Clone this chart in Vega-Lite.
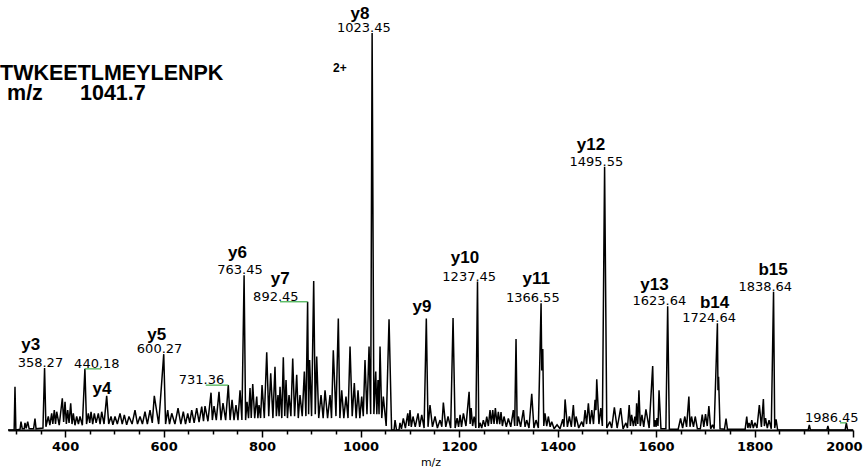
{
  "$schema": "https://vega.github.io/schema/vega-lite/v6.json",
  "width": 845,
  "height": 397,
  "autosize": {"type": "none"},
  "padding": {"left": 8, "top": 33, "right": 10, "bottom": 38},
  "background": "white",
  "config": {"view": {"stroke": null}, "font": "Liberation Sans"},
  "datasets": {
    "spectrum": [
      {"mz": 284, "i": 0}, {"mz": 296.5, "i": 0}, {"mz": 298.2, "i": 10.9}, {"mz": 300, "i": 0},
      {"mz": 308.5, "i": 0.2}, {"mz": 310.4, "i": 2.1}, {"mz": 313, "i": 0.3}, {"mz": 317, "i": 0.3},
      {"mz": 318.5, "i": 1.8}, {"mz": 321, "i": 0.4}, {"mz": 324.0, "i": 2.1}, {"mz": 327, "i": 0.3},
      {"mz": 336, "i": 0.3}, {"mz": 338.8, "i": 2.9}, {"mz": 341, "i": 0.3}, {"mz": 355, "i": 0.5},
      {"mz": 358.27, "i": 15.6, "label": "358.27"}, {"mz": 361, "i": 0.8}, {"mz": 365.8, "i": 3.4},
      {"mz": 369, "i": 1.2}, {"mz": 372.7, "i": 4.2}, {"mz": 375, "i": 1.5}, {"mz": 378.0, "i": 5.0},
      {"mz": 380.5, "i": 1.5}, {"mz": 382.9, "i": 4.6}, {"mz": 388, "i": 1.2}, {"mz": 394.3, "i": 8.0},
      {"mz": 397, "i": 2}, {"mz": 399.8, "i": 7.1}, {"mz": 402.5, "i": 1.5}, {"mz": 405.2, "i": 5.0},
      {"mz": 408, "i": 1.8}, {"mz": 411.3, "i": 6.7}, {"mz": 414, "i": 1.5}, {"mz": 416.6, "i": 4.2},
      {"mz": 420, "i": 1.2}, {"mz": 423.5, "i": 3.4}, {"mz": 427, "i": 1.5}, {"mz": 430.2, "i": 3.4},
      {"mz": 435, "i": 1.2}, {"mz": 440.18, "i": 15.4, "label": "440.18", "at": 472.9}, {"mz": 443.5, "i": 1.5},
      {"mz": 447.1, "i": 4.2}, {"mz": 450, "i": 1.8}, {"mz": 452.6, "i": 4.6}, {"mz": 456, "i": 1.5},
      {"mz": 459.3, "i": 4.2}, {"mz": 463, "i": 1.8}, {"mz": 467.4, "i": 4.2}, {"mz": 471, "i": 1.5},
      {"mz": 474.3, "i": 4.6}, {"mz": 479, "i": 1.5}, {"mz": 484.4, "i": 8.6}, {"mz": 488.5, "i": 1.5},
      {"mz": 493.2, "i": 3.4}, {"mz": 497, "i": 1.3}, {"mz": 501.3, "i": 3.4}, {"mz": 506, "i": 1.5},
      {"mz": 511.5, "i": 4.2}, {"mz": 516, "i": 1.5}, {"mz": 520.2, "i": 3.8}, {"mz": 525, "i": 1.3},
      {"mz": 529.7, "i": 3.4}, {"mz": 536, "i": 1.5}, {"mz": 541.9, "i": 5.0}, {"mz": 547, "i": 1.5},
      {"mz": 552.1, "i": 3.4}, {"mz": 557, "i": 1.5}, {"mz": 562.2, "i": 4.6}, {"mz": 567, "i": 1.5},
      {"mz": 572.4, "i": 5.0}, {"mz": 577, "i": 1.8}, {"mz": 581.1, "i": 8.6}, {"mz": 590, "i": 1.5},
      {"mz": 600.27, "i": 19.1, "label": "600.27"}, {"mz": 604, "i": 1.5}, {"mz": 608.3, "i": 5.0},
      {"mz": 612, "i": 1.5}, {"mz": 616.5, "i": 4.2}, {"mz": 623, "i": 1.5}, {"mz": 629.3, "i": 5.5},
      {"mz": 635, "i": 1.5}, {"mz": 640.0, "i": 4.6}, {"mz": 644.5, "i": 1.5}, {"mz": 649.0, "i": 4.2},
      {"mz": 653, "i": 1.8}, {"mz": 657.1, "i": 5.0}, {"mz": 662, "i": 1.8}, {"mz": 667.2, "i": 5.5},
      {"mz": 672, "i": 2}, {"mz": 677.4, "i": 5.9}, {"mz": 681, "i": 2.2}, {"mz": 684.1, "i": 6.0},
      {"mz": 690, "i": 2.2}, {"mz": 696.3, "i": 9.4}, {"mz": 699, "i": 2.5}, {"mz": 702.4, "i": 6.0},
      {"mz": 707, "i": 2.5}, {"mz": 712.5, "i": 9.6}, {"mz": 716.5, "i": 2.5}, {"mz": 720.6, "i": 6.8},
      {"mz": 726, "i": 2.5}, {"mz": 731.36, "i": 11.3, "label": "731.36", "at": 685.5}, {"mz": 735, "i": 2.5},
      {"mz": 739.0, "i": 7.6}, {"mz": 743, "i": 2.5}, {"mz": 747.0, "i": 6.3}, {"mz": 751, "i": 2.5},
      {"mz": 755.2, "i": 10.0}, {"mz": 759, "i": 2.5}, {"mz": 763.45, "i": 39.0, "label": "763.45"},
      {"mz": 766.5, "i": 2.5}, {"mz": 769.4, "i": 7.1}, {"mz": 772.5, "i": 3}, {"mz": 775.5, "i": 10.6},
      {"mz": 778, "i": 3}, {"mz": 781.0, "i": 11.6}, {"mz": 785, "i": 3}, {"mz": 789.1, "i": 8.4},
      {"mz": 791.5, "i": 3}, {"mz": 793.8, "i": 6.3}, {"mz": 797, "i": 3}, {"mz": 799.9, "i": 11.3},
      {"mz": 804.5, "i": 3}, {"mz": 809.4, "i": 19.6}, {"mz": 813.5, "i": 3.5}, {"mz": 817.5, "i": 14.3},
      {"mz": 822, "i": 3}, {"mz": 826.2, "i": 15.9}, {"mz": 829, "i": 3.5}, {"mz": 832.3, "i": 8.8},
      {"mz": 834.5, "i": 3.5}, {"mz": 836.4, "i": 10.9}, {"mz": 840, "i": 3}, {"mz": 843.1, "i": 18.3},
      {"mz": 846, "i": 3.5}, {"mz": 848.6, "i": 12.6}, {"mz": 851.5, "i": 3}, {"mz": 854.7, "i": 8.8},
      {"mz": 858.5, "i": 3.5}, {"mz": 862.2, "i": 18.0}, {"mz": 866, "i": 3.5}, {"mz": 870.3, "i": 13.9},
      {"mz": 873.5, "i": 3}, {"mz": 877.0, "i": 8.8}, {"mz": 881.5, "i": 3.5}, {"mz": 885.8, "i": 14.7},
      {"mz": 889, "i": 3.5}, {"mz": 892.45, "i": 32.3, "label": "892.45", "at": 836.4}, {"mz": 894.5, "i": 4},
      {"mz": 896.5, "i": 17.6}, {"mz": 900.5, "i": 3.5}, {"mz": 904.8, "i": 37.5}, {"mz": 908, "i": 4},
      {"mz": 910.9, "i": 18.5}, {"mz": 915, "i": 3}, {"mz": 919.7, "i": 8.8}, {"mz": 924, "i": 3},
      {"mz": 927.8, "i": 10.0}, {"mz": 933, "i": 3}, {"mz": 938.0, "i": 8.8}, {"mz": 941, "i": 3},
      {"mz": 944.6, "i": 20.1}, {"mz": 950, "i": 3.5}, {"mz": 954.8, "i": 28.1}, {"mz": 958, "i": 3},
      {"mz": 961.7, "i": 10.0}, {"mz": 966, "i": 3}, {"mz": 970.4, "i": 8.4}, {"mz": 974.5, "i": 3},
      {"mz": 978.6, "i": 21.0}, {"mz": 983, "i": 3.5}, {"mz": 987.3, "i": 11.8}, {"mz": 991, "i": 3},
      {"mz": 994.8, "i": 10.0}, {"mz": 998.5, "i": 3}, {"mz": 1002.3, "i": 8.4}, {"mz": 1005.5, "i": 3.5},
      {"mz": 1009.0, "i": 17.6}, {"mz": 1013, "i": 4}, {"mz": 1017.2, "i": 21.0}, {"mz": 1020.5, "i": 4},
      {"mz": 1023.45, "i": 100.0, "label": "1023.45"}, {"mz": 1027, "i": 4}, {"mz": 1030.8, "i": 14.7},
      {"mz": 1033, "i": 4}, {"mz": 1035.4, "i": 12.6}, {"mz": 1037.5, "i": 4}, {"mz": 1039.5, "i": 21.0},
      {"mz": 1043, "i": 3}, {"mz": 1046.2, "i": 8.4}, {"mz": 1052, "i": 1}, {"mz": 1057.8, "i": 27.9},
      {"mz": 1063, "i": 0}, {"mz": 1068, "i": 0}, {"mz": 1070.0, "i": 2.5}, {"mz": 1073, "i": 0},
      {"mz": 1078, "i": 0}, {"mz": 1080.0, "i": 1.8}, {"mz": 1083, "i": 0.3}, {"mz": 1086.8, "i": 2.9},
      {"mz": 1091, "i": 0.5}, {"mz": 1095.8, "i": 4.2}, {"mz": 1098, "i": 1}, {"mz": 1100.4, "i": 5.0},
      {"mz": 1103, "i": 0.8}, {"mz": 1106.5, "i": 3.4}, {"mz": 1111, "i": 0.8}, {"mz": 1116.7, "i": 4.2},
      {"mz": 1120, "i": 0.8}, {"mz": 1124.2, "i": 3.8}, {"mz": 1129, "i": 0.5}, {"mz": 1133.5, "i": 28.1},
      {"mz": 1137, "i": 0.8}, {"mz": 1141.0, "i": 6.3}, {"mz": 1146, "i": 0.8}, {"mz": 1151.2, "i": 3.4},
      {"mz": 1156, "i": 0.5}, {"mz": 1161.4, "i": 2.5}, {"mz": 1165, "i": 0.8}, {"mz": 1168.1, "i": 6.9},
      {"mz": 1173, "i": 0.8}, {"mz": 1177.6, "i": 3.4}, {"mz": 1183, "i": 0.5}, {"mz": 1187.8, "i": 28.2},
      {"mz": 1192, "i": 0.5}, {"mz": 1196.0, "i": 3.0}, {"mz": 1199, "i": 0.8}, {"mz": 1202.1, "i": 3.8},
      {"mz": 1205, "i": 0.8}, {"mz": 1208.8, "i": 4.2}, {"mz": 1214, "i": 1}, {"mz": 1220.4, "i": 9.6},
      {"mz": 1222.5, "i": 1.5}, {"mz": 1224.5, "i": 5.5}, {"mz": 1227.5, "i": 1}, {"mz": 1230.6, "i": 3.4},
      {"mz": 1234, "i": 0.5}, {"mz": 1237.45, "i": 37.4, "label": "1237.45"}, {"mz": 1240, "i": 0.5},
      {"mz": 1242.6, "i": 1.8}, {"mz": 1246, "i": 0.5}, {"mz": 1249.3, "i": 2.5}, {"mz": 1253, "i": 0.8},
      {"mz": 1256.2, "i": 3.4}, {"mz": 1259.5, "i": 1}, {"mz": 1262.9, "i": 5.0}, {"mz": 1265.5, "i": 1.5},
      {"mz": 1268.4, "i": 5.0}, {"mz": 1271, "i": 1.5}, {"mz": 1273.7, "i": 5.5}, {"mz": 1277, "i": 1.5},
      {"mz": 1279.8, "i": 4.6}, {"mz": 1282.5, "i": 1.5}, {"mz": 1285.2, "i": 4.5}, {"mz": 1288, "i": 1},
      {"mz": 1291.3, "i": 3.4}, {"mz": 1296, "i": 0.8}, {"mz": 1300.1, "i": 2.9}, {"mz": 1305, "i": 0.8},
      {"mz": 1310.2, "i": 5.0}, {"mz": 1313, "i": 1}, {"mz": 1315.7, "i": 22.9}, {"mz": 1318, "i": 1},
      {"mz": 1320.4, "i": 3.4}, {"mz": 1325, "i": 0.8}, {"mz": 1330.6, "i": 5.0}, {"mz": 1334, "i": 0.8},
      {"mz": 1337.4, "i": 2.5}, {"mz": 1342, "i": 0.5}, {"mz": 1347.6, "i": 9.1}, {"mz": 1352, "i": 0.5},
      {"mz": 1356.3, "i": 2.5}, {"mz": 1361, "i": 0.5}, {"mz": 1366.55, "i": 31.9, "label": "1366.55"},
      {"mz": 1368, "i": 15}, {"mz": 1370.0, "i": 20.4}, {"mz": 1372, "i": 1}, {"mz": 1374.5, "i": 4.2},
      {"mz": 1378, "i": 1}, {"mz": 1381.3, "i": 3.4}, {"mz": 1385, "i": 0.8}, {"mz": 1388.2, "i": 2.1},
      {"mz": 1393, "i": 0.3}, {"mz": 1399.0, "i": 1.3}, {"mz": 1405, "i": 0.3}, {"mz": 1410.6, "i": 2.7},
      {"mz": 1413, "i": 0.8}, {"mz": 1415.3, "i": 7.7}, {"mz": 1420, "i": 0.8}, {"mz": 1424.0, "i": 3.4},
      {"mz": 1428, "i": 0.8}, {"mz": 1432.1, "i": 6.3}, {"mz": 1435, "i": 0.8}, {"mz": 1437.6, "i": 3.4},
      {"mz": 1443, "i": 0.5}, {"mz": 1449.2, "i": 2.1}, {"mz": 1452.5, "i": 0.8}, {"mz": 1455.9, "i": 5.0},
      {"mz": 1459, "i": 1.5}, {"mz": 1462.6, "i": 6.7}, {"mz": 1466, "i": 1.5}, {"mz": 1469.5, "i": 5.0},
      {"mz": 1473, "i": 1.5}, {"mz": 1476.2, "i": 7.6}, {"mz": 1478, "i": 5}, {"mz": 1479.6, "i": 12.8},
      {"mz": 1484, "i": 1.5}, {"mz": 1487.8, "i": 5.5}, {"mz": 1491, "i": 1},
      {"mz": 1495.55, "i": 66.3, "label": "1495.55"}, {"mz": 1500, "i": 0.5}, {"mz": 1506.2, "i": 2.1},
      {"mz": 1510, "i": 0.5}, {"mz": 1515.4, "i": 5.7}, {"mz": 1521, "i": 0.5}, {"mz": 1528.2, "i": 5.5},
      {"mz": 1533, "i": 0.3}, {"mz": 1538.8, "i": 1.8}, {"mz": 1542, "i": 0.5}, {"mz": 1545.5, "i": 6.3},
      {"mz": 1548, "i": 1}, {"mz": 1550.4, "i": 3.8}, {"mz": 1554, "i": 1}, {"mz": 1557.1, "i": 3.4},
      {"mz": 1559, "i": 1}, {"mz": 1560.6, "i": 6.7}, {"mz": 1563, "i": 1.5}, {"mz": 1565.3, "i": 10.0},
      {"mz": 1568, "i": 1}, {"mz": 1571.4, "i": 3.8}, {"mz": 1575, "i": 0.8}, {"mz": 1579.5, "i": 5.2},
      {"mz": 1586, "i": 0.5}, {"mz": 1593.2, "i": 16.1}, {"mz": 1596, "i": 0.8}, {"mz": 1598.0, "i": 2.5},
      {"mz": 1600, "i": 0.8}, {"mz": 1602.0, "i": 3.0}, {"mz": 1604, "i": 1}, {"mz": 1606.1, "i": 10.0},
      {"mz": 1610, "i": 0.3}, {"mz": 1620, "i": 0.3}, {"mz": 1623.64, "i": 31.2, "label": "1623.64"},
      {"mz": 1627, "i": 0.2}, {"mz": 1645, "i": 0.2}, {"mz": 1649.8, "i": 2.9}, {"mz": 1654, "i": 0.5},
      {"mz": 1658.5, "i": 3.4}, {"mz": 1662, "i": 0.8}, {"mz": 1666.7, "i": 8.4}, {"mz": 1669, "i": 0.8},
      {"mz": 1672.1, "i": 3.4}, {"mz": 1676, "i": 0.8}, {"mz": 1679.6, "i": 3.4}, {"mz": 1684, "i": 0.3},
      {"mz": 1690, "i": 0.3}, {"mz": 1693.8, "i": 3.9}, {"mz": 1697, "i": 0.8}, {"mz": 1700.5, "i": 4.0},
      {"mz": 1704, "i": 1}, {"mz": 1707.3, "i": 6.0}, {"mz": 1711, "i": 0.3}, {"mz": 1714.8, "i": 1.3},
      {"mz": 1718, "i": 0.3}, {"mz": 1724.64, "i": 26.9, "label": "1724.64"}, {"mz": 1725.8, "i": 10},
      {"mz": 1727.0, "i": 13.4}, {"mz": 1730, "i": 0.3}, {"mz": 1739, "i": 0.2}, {"mz": 1742.2, "i": 2.9},
      {"mz": 1745, "i": 0.2}, {"mz": 1781, "i": 0.2}, {"mz": 1784.2, "i": 3.4}, {"mz": 1786.5, "i": 0.5},
      {"mz": 1788.9, "i": 1.8}, {"mz": 1791.5, "i": 0.5}, {"mz": 1794.4, "i": 2.5}, {"mz": 1797.5, "i": 0.5},
      {"mz": 1801.0, "i": 1.8}, {"mz": 1805, "i": 0.5}, {"mz": 1809.8, "i": 6.3}, {"mz": 1814, "i": 0.8},
      {"mz": 1818.0, "i": 7.8}, {"mz": 1820, "i": 1}, {"mz": 1822.4, "i": 3.0}, {"mz": 1826, "i": 0.5},
      {"mz": 1829.5, "i": 2.5}, {"mz": 1834, "i": 0.3}, {"mz": 1838.64, "i": 34.8, "label": "1838.64"},
      {"mz": 1841, "i": 0.5}, {"mz": 1843.8, "i": 2.7}, {"mz": 1847, "i": 0}, {"mz": 1909, "i": 0},
      {"mz": 1911.3, "i": 1.3}, {"mz": 1913.5, "i": 0}, {"mz": 1947, "i": 0}, {"mz": 1949.0, "i": 1.0},
      {"mz": 1951, "i": 0}, {"mz": 1984, "i": 0}, {"mz": 1986.45, "i": 1.8, "label": "1986.45", "at": 1973.7},
      {"mz": 1989, "i": 0}, {"mz": 2000, "i": 0}
    ],
    "ions": [
      {"ion": "y3", "mz": 330.3, "i": 20.2}, {"ion": "y4", "mz": 474.9, "i": 9.0},
      {"ion": "y5", "mz": 586.0, "i": 22.7}, {"ion": "y6", "mz": 750.1, "i": 43.3},
      {"ion": "y7", "mz": 837.0, "i": 36.8}, {"ion": "y8", "mz": 998.9, "i": 103.6},
      {"ion": "y9", "mz": 1124.8, "i": 29.8}, {"ion": "y10", "mz": 1212.1, "i": 42.1},
      {"ion": "y11", "mz": 1356.9, "i": 36.8}, {"ion": "y12", "mz": 1468.0, "i": 70.6},
      {"ion": "y13", "mz": 1597.0, "i": 35.3}, {"ion": "b14", "mz": 1718.8, "i": 30.7},
      {"ion": "b15", "mz": 1837.6, "i": 39.1}
    ],
    "notes": [
      {"text": "TWKEETLMEYLENPK", "mz": 267.8, "i": 88.2, "size": "big"},
      {"text": "m/z", "mz": 282.0, "i": 83.2, "size": "big"},
      {"text": "1041.7", "mz": 430.2, "i": 83.2, "size": "big"},
      {"text": "2+", "mz": 944.0, "i": 90.2, "size": "small"}
    ]
  },
  "encoding": {
    "x": {
      "field": "mz",
      "type": "quantitative",
      "scale": {"domain": [284, 2000], "nice": false, "zero": false},
      "axis": {
        "title": "m/z",
        "values": [300, 350, 400, 450, 500, 550, 600, 650, 700, 750, 800, 850, 900, 950, 1000, 1050, 1100, 1150, 1200, 1250, 1300, 1350, 1400, 1450, 1500, 1550, 1600, 1650, 1700, 1750, 1800, 1850, 1900, 1950, 2000],
        "format": "d",
        "labelExpr": "datum.value % 200 === 0 ? datum.label : ''",
        "labelOverlap": false,
        "labelFlush": true,
        "labelFlushOffset": 9,
        "grid": false,
        "domainColor": "black",
        "domainWidth": 2,
        "tickColor": "black",
        "tickWidth": 1.5,
        "tickSize": {"condition": {"test": "datum.value % 200 === 0", "value": 7}, "value": 4},
        "labelFont": "DejaVu Sans",
        "labelFontWeight": "bold",
        "labelFontSize": 13,
        "labelColor": "black",
        "labelPadding": 3,
        "titleFont": "DejaVu Sans",
        "titleFontSize": 11,
        "titleFontWeight": "normal",
        "titleColor": "black",
        "titlePadding": 3
      }
    },
    "y": {
      "field": "i",
      "type": "quantitative",
      "scale": {"domain": [0, 100], "nice": false},
      "axis": null
    }
  },
  "layer": [
    {
      "data": {"name": "spectrum"},
      "mark": {"type": "line", "color": "black", "strokeWidth": 1.5, "strokeJoin": "miter", "strokeMiterLimit": 2},
      "encoding": {}
    },
    {
      "data": {"name": "spectrum"},
      "transform": [{"filter": "isValid(datum.at)"}],
      "mark": {"type": "rule", "color": "#3dae49", "strokeWidth": 1.2},
      "encoding": {"x2": {"field": "at"}}
    },
    {
      "data": {"name": "spectrum"},
      "transform": [{"filter": "isValid(datum.label)"}, {"calculate": "isValid(datum.at) ? datum.at : datum.mz", "as": "anchor"}],
      "mark": {"type": "text", "align": "right", "baseline": "alphabetic", "dx": 18.6, "dy": -1, "fontSize": 13, "font": "DejaVu Sans", "color": "black"},
      "encoding": {"x": {"field": "anchor", "type": "quantitative"}, "text": {"field": "label"}}
    },
    {
      "data": {"name": "ions"},
      "mark": {"type": "text", "align": "center", "baseline": "alphabetic", "fontSize": 17, "fontWeight": "bold", "font": "Liberation Sans", "color": "black"},
      "encoding": {"text": {"field": "ion"}}
    },
    {
      "data": {"name": "notes"},
      "transform": [{"filter": "datum.size === 'big'"}],
      "mark": {"type": "text", "align": "left", "baseline": "alphabetic", "fontSize": 21.5, "fontWeight": "bold", "font": "Liberation Sans", "color": "black"},
      "encoding": {"text": {"field": "text"}}
    },
    {
      "data": {"name": "notes"},
      "transform": [{"filter": "datum.size === 'small'"}],
      "mark": {"type": "text", "align": "left", "baseline": "alphabetic", "fontSize": 12, "fontWeight": "bold", "font": "Liberation Sans", "color": "black"},
      "encoding": {"text": {"field": "text"}}
    }
  ]
}
